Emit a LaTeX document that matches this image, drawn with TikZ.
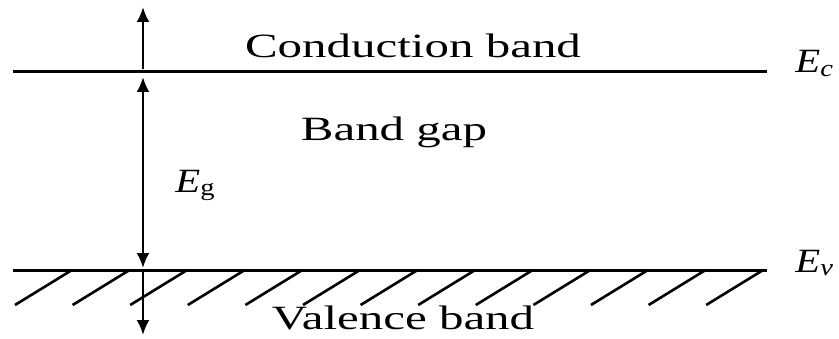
\documentclass[tikz,border=0pt]{standalone}
\usepackage{fontspec}
\setmainfont{Liberation Serif}
\usepackage{tikz}
\usetikzlibrary{arrows.meta,positioning}
\tikzset{every picture/.style={line width=0.75pt}}
\tikzset{
  band/.style={line width=3pt},
  hatch/.style={line width=2.6pt},
  gaparrow/.style={line width=2.4pt, -{Latex[length=15pt,width=13pt]}},
  txt/.style={font=\fontsize{34}{40}\selectfont, xscale=1.44, transform shape, inner sep=0pt, anchor=base},
  lbl/.style={txt, xscale=1/1.44*1.2, anchor=base west}
}

\begin{document}
\begin{tikzpicture}[x=1pt,y=1pt]
    \useasboundingbox (0,0) rectangle (839,338);

    % 导带底 E_c
    \coordinate (cL) at (13,266);
    \coordinate (cR) at (767,266);
    \draw[band] (cL) -- (cR);
    \node[lbl] (Ec) at (795,265) {\itshape E\textsubscript{c}};

    % 价带顶 E_v
    \coordinate (vL) at (13,68);
    \coordinate (vR) at (767,68);
    \draw[band] (vL) -- (vR);
    \node[lbl] (Ev) at (795,66) {\itshape E\textsubscript{v}};

    % 价带阴影线
    \foreach \i in {0,...,12} {
        \coordinate (h\i) at ({72+57.6*\i},68);
        \draw[hatch] (h\i) -- ++(-57,-35);
    }

    % 标注
    \node[txt] (cb) at (413,280) {Conduction band};
    \node[txt] (gap) at (394,197) {Band gap};
    \node[txt] (vb) at (403,9) {Valence band};
    \node[lbl] (Eg) at (175,146) {\itshape E\textsubscript{\upshape g}};

    % 箭头
    \coordinate (a1) at (143,269);
    \coordinate (a2) at (143,331);
    \coordinate (g1) at (143,261);
    \coordinate (g2) at (143,70);
    \coordinate (b1) at (143,66);
    \coordinate (b2) at (143,3);
    \draw[gaparrow] (a1) -- (a2);
    \draw[gaparrow, {Latex[length=15pt,width=13pt]}-{Latex[length=15pt,width=13pt]}] (g2) -- (g1);
    \draw[gaparrow] (b1) -- (b2);
\end{tikzpicture}
\end{document}
